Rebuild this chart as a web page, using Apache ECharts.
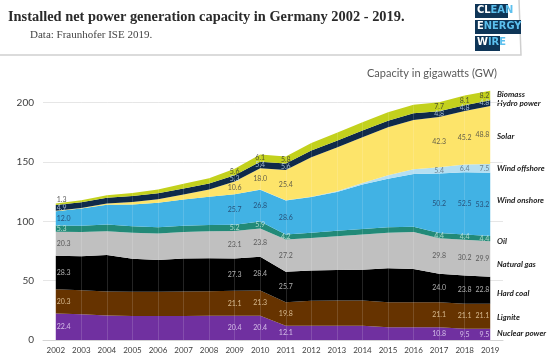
<!DOCTYPE html>
<html>
<head>
<meta charset="utf-8">
<script src="https://cdn.jsdelivr.net/npm/echarts@6/dist/echarts.min.js"></script>
<style>
html,body{margin:0;padding:0;background:#fff;}
#chart{width:550px;height:358px;}
</style>
</head>
<body>
<div id="chart"></div>
<script>
const years = ['2002','2003','2004','2005','2006','2007','2008','2009','2010','2011','2012','2013','2014','2015','2016','2017','2018','2019'];
const nuclear      = [22.4, 21.6, 20.6, 20.3, 20.3, 20.3, 20.4, 20.4, 20.4, 12.1, 12.1, 12.1, 12.1, 10.8, 10.8, 10.8,  9.5,  9.5];
const lignite      = [20.3, 20.3, 20.3, 20.4, 20.4, 20.5, 20.6, 21.1, 21.3, 19.8, 21.0, 21.2, 21.3, 21.1, 21.1, 21.1, 21.1, 21.1];
const hardCoal     = [28.3, 28.6, 30.8, 27.7, 26.8, 27.8, 27.9, 27.3, 28.4, 25.7, 25.4, 25.7, 25.9, 28.6, 27.9, 24.0, 23.8, 22.8];
const naturalGas   = [20.3, 20.5, 20.0, 22.0, 22.3, 22.4, 22.7, 23.1, 23.8, 27.2, 27.5, 28.5, 29.7, 30.0, 31.2, 29.8, 30.2, 29.9];
const oil          = [ 5.3,  5.3,  5.6,  5.4,  5.3,  5.3,  5.3,  5.2,  5.9,  4.2,  4.5,  4.5,  4.5,  4.5,  4.5,  4.4,  4.4,  4.4];
const windOnshore  = [12.0, 14.6, 16.6, 18.4, 20.6, 22.2, 23.8, 25.7, 26.8, 28.6, 30.0, 32.8, 37.5, 41.0, 44.5, 50.2, 52.5, 53.2];
const windOffshore = [ 0.0,  0.0,  0.0,  0.0,  0.0,  0.0,  0.0,  0.1,  0.2,  0.2,  0.3,  0.5,  1.4,  2.8,  3.9,  5.4,  6.4,  7.5];
const solar        = [ 0.3,  0.4,  1.1,  2.1,  2.9,  4.2,  6.1, 10.6, 18.0, 25.4, 33.3, 37.0, 38.6, 40.6, 41.6, 42.3, 45.2, 48.8];
const hydro        = [ 4.9,  4.9,  5.0,  5.0,  5.1,  5.1,  5.2,  5.3,  5.4,  5.6,  5.6,  5.6,  5.6,  5.5,  5.6,  4.8,  4.8,  4.8];
const biomass      = [ 1.3,  1.6,  2.0,  2.6,  3.2,  3.9,  4.4,  5.6,  6.1,  5.8,  6.3,  6.7,  6.9,  7.1,  7.3,  7.7,  8.1,  8.2];
const yTicks = [0, 50, 100, 150, 200];
const labelYears = ['2002','2009','2010','2011','2017','2018','2019'];

const layers = [
  {name:'Nuclear power', data:nuclear,      color:'#7030a0', text:'#eadcf6', years:labelYears},
  {name:'Lignite',       data:lignite,      color:'#663300', text:'#f3dab0', years:labelYears},
  {name:'Hard coal',     data:hardCoal,     color:'#000000', text:'#d8d8d8', years:labelYears},
  {name:'Natural gas',   data:naturalGas,   color:'#c0c0c0', text:'#404040', years:labelYears},
  {name:'Oil',           data:oil,          color:'#228a78', text:'#cde9dc', years:labelYears},
  {name:'Wind onshore',  data:windOnshore,  color:'#41b2e4', text:'#1f3a60', years:labelYears},
  {name:'Wind offshore', data:windOffshore, color:'#b5dff2', text:'#5a6a78', years:['2017','2018','2019']},
  {name:'Solar',         data:solar,        color:'#fde46a', text:'#404040', years:labelYears.slice(1)},
  {name:'Hydro power',   data:hydro,        color:'#0f2a4a', text:'#c3d8ee', years:labelYears},
  {name:'Biomass',       data:biomass,      color:'#c3d11d', text:'#333333', years:labelYears}
];

const legendY = {'Biomass':94,'Hydro power':103,'Solar':136,'Wind offshore':168,'Wind onshore':200,'Oil':241,'Natural gas':264,'Hard coal':293,'Lignite':317,'Nuclear power':333};

const series = layers.map(l => ({
  name: l.name, type: 'line', stack: 'total', data: l.data,
  symbol: 'none', lineStyle: {width: 0}, areaStyle: {color: l.color, opacity: 1},
  itemStyle: {color: l.color}, emphasis: {disabled: true}, z: 2
}));

// label points at the middle of each band
const labelData = [];
const cum = years.map(() => 0);
layers.forEach(l => {
  years.forEach((y, i) => {
    const v = l.data[i];
    if (l.years.indexOf(y) >= 0) {
      const mid = cum[i] + v / 2;
      const lab = {color: l.text};
      if (y === '2002') { lab.align = 'left'; lab.offset = [1, 0]; }
      else if (y === '2019') { lab.align = 'right'; lab.offset = [-1, 0]; }
      if (l.name === 'Biomass' && y === '2002') lab.offset = [1, -4];
      labelData.push({value: [y, mid], name: v.toFixed(1), label: lab});
    }
    cum[i] += v;
  });
});

series.push({
  type: 'scatter', data: labelData, symbolSize: 0, z: 5, silent: true, clip: false,
  label: {show: true, position: 'inside', formatter: p => p.name, fontSize: 7, fontFamily: 'Lato'},
  markLine: {
    silent: true, symbol: 'none', animation: false,
    lineStyle: {color: 'rgba(255,255,255,0.14)', width: 1, type: 'solid'},
    label: {show: false},
    data: years.slice(1, -1).map(y => ({xAxis: y}))
  }
});

const graphic = [
  {type:'text', left: 8, top: 10, style:{text:'Installed net power generation capacity in Germany 2002 - 2019.', font:'bold 14.4px "Liberation Serif"', fill:'#2a2a2a'}},
  {type:'text', left: 30, top: 30, style:{text:'Data: Fraunhofer ISE 2019.', font:'11px "Liberation Serif"', fill:'#444'}},
  {type:'polyline', shape:{points:[[0,55],[521,55],[519,0]]}, style:{stroke:'#cfcfcf', lineWidth:1.5, fill:null}},
  {type:'rect', shape:{x:475,y:4,width:33,height:14}, style:{fill:'#0e3557'}},
  {type:'rect', shape:{x:475,y:20,width:46,height:14}, style:{fill:'#0e3557'}},
  {type:'rect', shape:{x:475,y:36,width:25,height:15}, style:{fill:'#0e3557'}},
  {type:'text', x:477, y:5, style:{text:'{a|CL}{b|EAN}', rich:{a:{fill:'#ffffff', font:'bold 11px "DejaVu Sans Condensed"'}, b:{fill:'#5cc0ee', font:'bold 11px "DejaVu Sans Condensed"'}}}},
  {type:'text', x:477, y:21, style:{text:'{a|E}{b|NERGY}', rich:{a:{fill:'#ffffff', font:'bold 11px "DejaVu Sans Condensed"'}, b:{fill:'#5cc0ee', font:'bold 11px "DejaVu Sans Condensed"'}}}},
  {type:'text', x:477, y:37, style:{text:'{a|W}{b|IRE}', rich:{a:{fill:'#ffffff', font:'bold 11px "DejaVu Sans Condensed"'}, b:{fill:'#5cc0ee', font:'bold 11px "DejaVu Sans Condensed"'}}}},
  {type:'text', x:367, y:73, style:{text:'Capacity in gigawatts (GW)', font:'11px Lato', fill:'#595959', verticalAlign:'middle'}}
];
layers.forEach(l => {
  graphic.push({type:'text', x:497, y:legendY[l.name], style:{text:l.name, font:'italic bold 8px Lato', fill:'#222', verticalAlign:'middle'}});
});

const chart = echarts.init(document.getElementById('chart'), null, {renderer:'canvas'});
chart.setOption({
  animation: false,
  backgroundColor: '#ffffff',
  grid: {left: 43, right: 47, top: 79, bottom: 18, containLabel: false},
  xAxis: {
    type: 'category', data: years, boundaryGap: true,
    axisLine: {lineStyle: {color: '#d4d4d4', width: 1}},
    axisTick: {show: false},
    axisLabel: {color: '#404040', fontSize: 8, fontFamily: 'Lato', margin: 6, interval: 0},
    splitLine: {show: false}
  },
  yAxis: {
    type: 'value', min: 0, max: 220, interval: 50,
    axisLine: {show: false}, axisTick: {show: false},
    axisLabel: {color: '#404040', fontSize: 10, fontFamily: 'Lato', margin: 9, showMaxLabel: false,
      formatter: v => yTicks.indexOf(v) >= 0 ? String(v) : ''},
    splitLine: {show: true, showMaxLine: false, lineStyle: {color: '#e6e6e6', width: 1}}
  },
  series: series,
  graphic: graphic
});
</script>
</body>
</html>
